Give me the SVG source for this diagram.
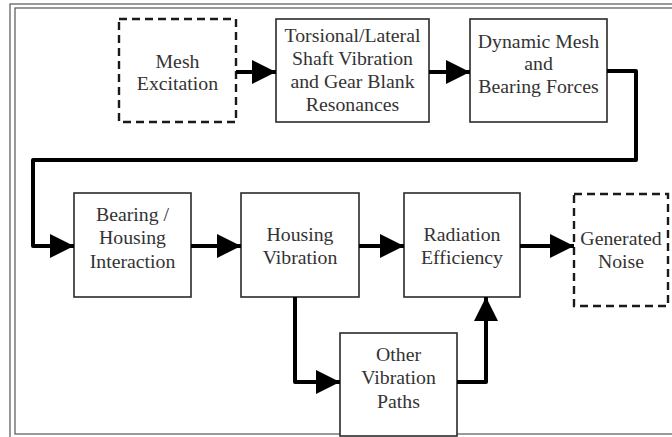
<svg xmlns="http://www.w3.org/2000/svg" width="672" height="437" viewBox="0 0 672 437">
<style>
.box{fill:#fff;stroke:#2a2a2a;stroke-width:1.6}
.dash{fill:#fff;stroke:#1a1a1a;stroke-width:2.4;stroke-dasharray:8 5}
.t{font-family:"Liberation Serif","Times New Roman",serif;font-size:19.8px;fill:#333;text-anchor:middle}
.c{fill:none;stroke:#000;stroke-width:4;stroke-linejoin:round}
.frame{fill:none;stroke:#555;stroke-width:1.2}
</style>
<defs>
<marker id="ah" viewBox="0 0 24 24" refX="24" refY="12" markerWidth="24" markerHeight="24" markerUnits="userSpaceOnUse" orient="auto">
<path d="M0,0 L24,12 L0,24 Z" fill="#000"/>
</marker>
</defs>
<rect width="672" height="437" fill="#fff"/>
<rect class="frame" x="10" y="4" width="670" height="440"/>
<rect class="frame" x="15" y="8" width="670" height="426"/>

<g id="mesh-excitation">
<rect class="dash" x="119" y="19" width="117" height="103"/>
<text class="t" x="177.5" y="68">Mesh</text>
<text class="t" x="177.5" y="90">Excitation</text>
</g>
<g id="torsional">
<rect class="box" x="276" y="19" width="153" height="103"/>
<text class="t" x="352.5" y="42">Torsional/Lateral</text>
<text class="t" x="352.5" y="65">Shaft Vibration</text>
<text class="t" x="352.5" y="88">and Gear Blank</text>
<text class="t" x="352.5" y="111">Resonances</text>
</g>
<g id="dynamic-mesh">
<rect class="box" x="470" y="19" width="137" height="103"/>
<text class="t" x="538.5" y="48">Dynamic Mesh</text>
<text class="t" x="538.5" y="70">and</text>
<text class="t" x="538.5" y="93">Bearing Forces</text>
</g>
<g id="bearing-housing">
<rect class="box" x="74" y="193" width="117" height="104"/>
<text class="t" x="132.5" y="221">Bearing /</text>
<text class="t" x="132.5" y="244">Housing</text>
<text class="t" x="132.5" y="268">Interaction</text>
</g>
<g id="housing-vibration">
<rect class="box" x="241" y="193" width="118" height="104"/>
<text class="t" x="300" y="241">Housing</text>
<text class="t" x="300" y="264">Vibration</text>
</g>
<g id="radiation-efficiency">
<rect class="box" x="404" y="193" width="116" height="104"/>
<text class="t" x="462" y="241">Radiation</text>
<text class="t" x="462" y="264">Efficiency</text>
</g>
<g id="generated-noise">
<rect class="dash" x="574" y="194" width="94" height="112"/>
<text class="t" x="621" y="245">Generated</text>
<text class="t" x="621" y="268">Noise</text>
</g>
<g id="other-paths">
<rect class="box" x="340" y="333" width="117" height="103"/>
<text class="t" x="398.5" y="361">Other</text>
<text class="t" x="398.5" y="384">Vibration</text>
<text class="t" x="398.5" y="408">Paths</text>
</g>

<g id="connectors">
<path class="c" d="M236,72 H276" marker-end="url(#ah)"/>
<path class="c" d="M429,72 H470" marker-end="url(#ah)"/>
<path class="c" d="M607,71 H636 V160 H33 V246 H74" marker-end="url(#ah)"/>
<path class="c" d="M191,246 H241" marker-end="url(#ah)"/>
<path class="c" d="M359,246 H404" marker-end="url(#ah)"/>
<path class="c" d="M520,246 H574" marker-end="url(#ah)"/>
<path class="c" d="M295,297 V382 H340" marker-end="url(#ah)"/>
<path class="c" d="M457,382 H486 V297" marker-end="url(#ah)"/>
</g>
</svg>
